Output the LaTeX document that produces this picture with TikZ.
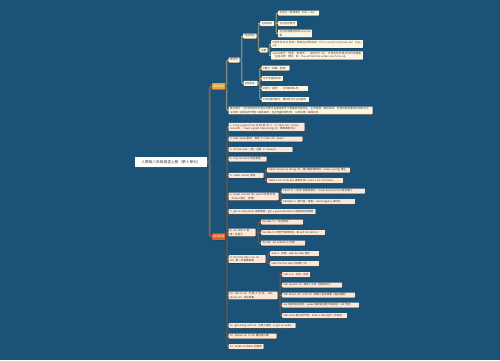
\documentclass[tikz,border=0pt]{standalone}
\usepackage{fontspec}
\setmainfont{Noto Sans CJK SC}
\XeTeXlinebreaklocale "zh"
\XeTeXlinebreakskip = 0pt plus 1pt
\usetikzlibrary{shadows,calc}
\pgfdeclarelayer{bglayer}
\pgfdeclarelayer{linelayer}
\pgfsetlayers{bglayer,linelayer,main}
\definecolor{bg}{HTML}{1B5277}
\definecolor{creamA}{HTML}{FDF5E2}
\definecolor{peachB}{HTML}{FCE6D8}
\definecolor{orA}{HTML}{E9A23B}
\definecolor{orB}{HTML}{E2632A}
\definecolor{lineA}{HTML}{7F8A78}
\definecolor{stubA}{HTML}{D8A83C}
\definecolor{lineB}{HTML}{555555}
\definecolor{rootgray}{HTML}{686868}
\definecolor{stubB}{HTML}{C8552B}
\definecolor{txt}{HTML}{3A3A3A}
\newcommand{\fsleaf}{\fontsize{2.6pt}{3.3pt}\selectfont}
\newcommand{\mmlink}[4]{\draw[#1] (#2.east) -- ++(#3,0) |- (#4.west);}
\newcommand{\mmstub}[2]{\draw[#1] ($(#2.west)+(-1.8,0)$) -- (#2.west);}
\tikzset{
  shad/.style={drop shadow={shadow xshift=0.45pt,shadow yshift=-0.5pt,fill=black!85,opacity=0.75}},
  boxbase/.style={shad,rounded corners=0.6pt,inner xsep=1.3pt,inner ysep=1pt,minimum height=5pt,align=left,anchor=west,text=txt,font=\fsleaf},
  la/.style={boxbase,fill=creamA,text width=#1},
  lb/.style={boxbase,fill=peachB,text width=#1},
  rootbox/.style={shad,fill=white,rounded corners=0.6pt,minimum width=72pt,minimum height=10pt,inner sep=1pt,text=txt,font=\fontsize{3.7pt}{4.4pt}\selectfont},
  orbox/.style={shad,rounded corners=0.6pt,inner xsep=1.2pt,inner ysep=1pt,minimum height=6.5pt,anchor=west,text=white,font=\fontsize{2.7pt}{3.3pt}\selectfont},
  rootline/.style={draw=rootgray,line width=2pt,rounded corners=1.5pt},
  la-line/.style={draw=lineA,line width=1.3pt,rounded corners=1.5pt},
  lb-line/.style={draw=lineB,line width=1.7pt,rounded corners=1.5pt},
  la-stub/.style={draw=stubA,line width=0.8pt},
  lb-stub/.style={draw=stubB,line width=0.8pt},
}
\begin{document}
\begin{tikzpicture}[x=1pt,y=-1pt]
\begin{pgfonlayer}{bglayer}
\fill[bg] (0,0) rectangle (500,360);
\end{pgfonlayer}
\useasboundingbox (0,0) rectangle (500,360);

% root and main branches
\node[rootbox] (root) at (171,162) {人教版八年级英语上册（第十单元）};
\node[orbox,fill=orA] (o1) at (212,86.3) {语法知识};
\node[orbox,fill=orB] (o2) at (212,236.5) {重点短语};

% ---------- branch 1 ----------
\node[la=8.4pt] (a) at (228.5,60) {条件句};
\node[la=10.9pt] (b) at (243,36) {时态呼应};
\node[la=11.4pt] (c) at (260,23.5) {主将从现};
\node[la=38.4pt] (c1) at (278,13) {主句为一般将来时（will + do）};
\node[la=16.4pt] (c2) at (278,23.5) {主句为祈使句};
\node[la=31.4pt] (c3) at (278,33.5) {主句含有情态动词can/may等};
\node[la=5.4pt] (d) at (259.5,50) {注意};
\node[la=89.4pt] (d1) at (271,44) {if条件句中从句用一般现在时表将来：If it is sunny tomorrow, we’ll go out.};
\node[la=89.4pt] (d2) at (271,55.5) {unless意为“除非，如果不”，相当于if not，引导条件状语从句时也遵循“主将从现”原则，如：You will be late unless you hurry up.};
\node[la=11.4pt] (e) at (243.5,83.3) {if的用法};
\node[la=25.4pt] (e1) at (261.5,68) {if意为“如果、假如”};
\node[la=18.6pt] (e2) at (261.5,78.5) {位于句首或句末};
\node[la=43.9pt] (e3) at (261.5,88.5) {if意为“是否”，引导宾语从句};
\node[la=44.9pt] (e4) at (261.5,99.5) {if从句放句首时，要用逗号与主句隔开};
\node[la=141.4pt] (f) at (228.5,110.5) {要点提示：if引导的条件状语从句表示在某种条件下某事很可能发生，主句常用一般将来时、祈使句或含情态动词的句子，从句用一般现在时代替一般将来时；当主句是祈使句时，从句也用一般现在时。};

% ---------- branch 2 ----------
\node[lb=73.4pt] (n1) at (228.5,127) {1. have a great time 玩得很开心（= have fun = enjoy oneself），have a great time doing sth. 做某事很开心};
\node[lb=71.4pt] (n2) at (228.5,139) {2. take away 拿走，带走（= take sth. away）};
\node[lb=61.4pt] (n3) at (228.5,149.5) {3. all the time 一直，总是（= always）};
\node[lb=35.4pt] (n4) at (228.5,159) {4. stay at home 待在家里};
\node[lb=32.4pt] (n5) at (228.5,175.3) {5. make money 挣钱};
\node[lb=80.4pt] (n5a) at (267,170) {make money by doing sth. 通过做某事挣钱；make a living 谋生};
\node[lb=73.4pt] (n5b) at (267,180.5) {make a lot of money 挣很多钱 = earn a lot of money};
\node[lb=47.4pt] (n6) at (228.5,196.5) {6. travel around the world 环游世界（travel 旅行，旅游）};
\node[lb=80.9pt] (n6a) at (281.5,191) {travel to + 地点 去某地旅行；travel by bus/train 乘车旅行};
\node[lb=70.9pt] (n6b) at (281.5,201.5) {traveller n. 旅行者，游客；travel agency 旅行社};
\node[lb=84.4pt] (n7) at (228.5,211.5) {7. get an education 接受教育；get a good education 接受良好的教育};
\node[lb=24.4pt] (n8) at (228.5,232.5) {8. be able to 能够，有能力};
\node[lb=39.4pt] (n8a) at (261,222) {be able to + 动词原形};
\node[lb=61.4pt] (n8b) at (261,232.5) {be able to 可用于各种时态，如 will be able to};
\node[lb=41.4pt] (n8c) at (261,243) {反义词：be unable to 不能};
\node[lb=34.4pt] (n9) at (228.5,259) {9. the first step is to do sth. 第一步是做某事};
\node[lb=46.4pt] (n9a) at (270,253.5) {step n. 步骤；step by step 逐步};
\node[lb=46.4pt] (n9b) at (270,263.5) {take the first step 迈出第一步};
\node[lb=46.4pt] (n10) at (228.5,295.5) {10. talk to sb. 与某人交谈；talk about sth. 谈论某事};
\node[lb=25.4pt] (n10a) at (282,274.5) {talk v./n. 交谈；谈话};
\node[lb=57.4pt] (n10b) at (282,285) {talk to/with sb. 和某人交谈（强调双方）};
\node[lb=70.4pt] (n10c) at (282,295) {talk about sth. with sb. 和某人谈论某事（固定搭配）};
\node[lb=74.4pt] (n10d) at (282,305) {say 强调说话内容；speak 强调说话能力或语言；tell 告诉};
\node[lb=62.4pt] (n10e) at (282,315.5) {talk show 脱口秀节目；have a talk 进行一次谈话};
\node[lb=64.4pt] (n11) at (228.5,325.5) {11. get along with sb. 与某人相处（= get on with）};
\node[lb=45.4pt] (n12) at (228.5,336) {12. advise sb. to do 建议某人做};
\node[lb=32.4pt] (n13) at (228.5,346.5) {13. make mistakes 犯错误};

% ---------- connectors ----------
\begin{pgfonlayer}{linelayer}
\mmlink{rootline}{root}{2.5}{o1}
\mmlink{rootline}{root}{2.5}{o2}
% branch 1
\mmlink{la-line}{o1}{1}{a}
\mmlink{la-line}{o1}{1}{f}
\mmlink{la-line}{a}{1.8}{b}
\mmlink{la-line}{a}{1.8}{e}
\mmlink{la-line}{b}{1.6}{c}
\mmlink{la-line}{b}{1.6}{d}
\mmlink{la-line}{c}{1.8}{c1}
\mmlink{la-line}{c}{1.8}{c2}
\mmlink{la-line}{c}{1.8}{c3}
\mmlink{la-line}{d}{1.7}{d1}
\mmlink{la-line}{d}{1.7}{d2}
\mmlink{la-line}{e}{1.8}{e1}
\mmlink{la-line}{e}{1.8}{e2}
\mmlink{la-line}{e}{1.8}{e3}
\mmlink{la-line}{e}{1.8}{e4}
\foreach \n in {a,f,b,e,c,d,c1,c2,c3,d1,d2,e1,e2,e3,e4} {\mmstub{la-stub}{\n}}
% branch 2
\foreach \n in {n1,n2,n3,n4,n5,n6,n7,n8,n9,n10,n11,n12,n13} {\mmlink{lb-line}{o2}{1.5}{\n}}
\mmlink{lb-line}{n5}{1.8}{n5a}
\mmlink{lb-line}{n5}{1.8}{n5b}
\mmlink{lb-line}{n6}{1.8}{n6a}
\mmlink{lb-line}{n6}{1.8}{n6b}
\mmlink{lb-line}{n8}{2.5}{n8a}
\mmlink{lb-line}{n8}{2.5}{n8b}
\mmlink{lb-line}{n8}{2.5}{n8c}
\mmlink{lb-line}{n9}{2}{n9a}
\mmlink{lb-line}{n9}{2}{n9b}
\foreach \n in {a,b,c,d,e} {\mmlink{lb-line}{n10}{2.2}{n10\n}}
\foreach \n in {n1,n2,n3,n4,n5,n6,n7,n8,n9,n10,n11,n12,n13,n5a,n5b,n6a,n6b,n8a,n8b,n8c,n9a,n9b,n10a,n10b,n10c,n10d,n10e} {\mmstub{lb-stub}{\n}}
\end{pgfonlayer}
\end{tikzpicture}
\end{document}
